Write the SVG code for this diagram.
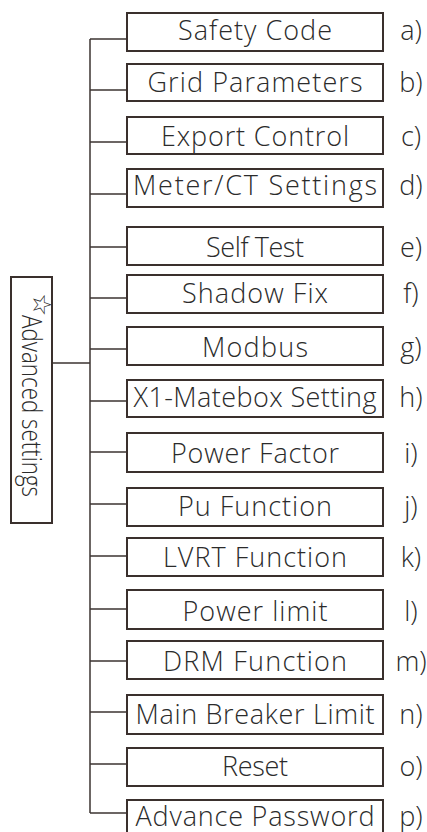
<svg xmlns="http://www.w3.org/2000/svg" width="427" height="832" viewBox="0 0 427 832">
<style>
  .box { fill: #ffffff; stroke: #3a302d; stroke-width: 2; }
  .lbl { font-family: "Open Sans", "Noto Sans", "Liberation Sans", sans-serif; font-weight: 300; font-size: 27px; fill: #2b2b2b; text-anchor: middle; }
  .idx { font-family: "Open Sans", "Noto Sans", "Liberation Sans", sans-serif; font-weight: 300; font-size: 27px; fill: #2b2b2b; text-anchor: middle; }
  .conn { fill: none; stroke: #3d3532; stroke-width: 1.5; }
</style>
<rect x="0" y="0" width="427" height="832" fill="#ffffff"/>
<g id="connectors">
  <path class="conn" d="M90 39V813 M53 363H90 M90 39H127 M90 90H127 M90 142H127 M90 194H127 M90 247H127 M90 298H127 M90 349H127 M90 401H127 M90 452H127 M90 504H127 M90 556H127 M90 609H127 M90 661H127 M90 712H127 M90 764H127 M90 813H127"/>
</g>
<g id="advanced">
  <rect class="box" x="11" y="277" width="41" height="246"/>
  <text font-family="DejaVu Sans, sans-serif" font-size="26" fill="#2f2f2f" transform="translate(33,293) rotate(90)">☆</text>
  <text class="lbl" style="text-anchor:start" font-size="23" textLength="182" lengthAdjust="spacingAndGlyphs" transform="translate(22,315) rotate(90)">Advanced settings</text>
</g>
<g id="n1"><rect class="box" x="127" y="13" width="256" height="38"/><text class="lbl" x="255" y="40" textLength="154">Safety Code</text><text class="idx" x="411" y="40">a)</text></g>
<g id="n2"><rect class="box" x="127" y="64" width="256" height="37"/><text class="lbl" x="255" y="92" textLength="215">Grid Parameters</text><text class="idx" x="411" y="92">b)</text></g>
<g id="n3"><rect class="box" x="127" y="117" width="256" height="37"/><text class="lbl" x="255" y="146" textLength="188">Export Control</text><text class="idx" x="411" y="146">c)</text></g>
<g id="n4"><rect class="box" x="127" y="169" width="256" height="38"/><text class="lbl" x="255" y="195" textLength="244">Meter/CT Settings</text><text class="idx" x="411" y="195">d)</text></g>
<g id="n5"><rect class="box" x="127" y="227" width="256" height="38"/><text class="lbl" x="255" y="257" textLength="98">Self Test</text><text class="idx" x="411" y="257">e)</text></g>
<g id="n6"><rect class="box" x="127" y="275" width="256" height="38"/><text class="lbl" x="255" y="303" textLength="146">Shadow Fix</text><text class="idx" x="411" y="303">f)</text></g>
<g id="n7"><rect class="box" x="127" y="327" width="256" height="38"/><text class="lbl" x="255" y="357" textLength="106">Modbus</text><text class="idx" x="411" y="357">g)</text></g>
<g id="n8"><rect class="box" x="127" y="380" width="256" height="37"/><text class="lbl" x="255" y="407" textLength="243">X1-Matebox Setting</text><text class="idx" x="411" y="407">h)</text></g>
<g id="n9"><rect class="box" x="127" y="433" width="256" height="39"/><text class="lbl" x="255" y="463" textLength="168">Power Factor</text><text class="idx" x="411" y="463">i)</text></g>
<g id="n10"><rect class="box" x="127" y="488" width="256" height="38"/><text class="lbl" x="255" y="516" textLength="154">Pu Function</text><text class="idx" x="411" y="516">j)</text></g>
<g id="n11"><rect class="box" x="127" y="538" width="256" height="38"/><text class="lbl" x="255" y="567" textLength="184">LVRT Function</text><text class="idx" x="411" y="567">k)</text></g>
<g id="n12"><rect class="box" x="127" y="590" width="256" height="39"/><text class="lbl" x="255" y="621" textLength="145">Power limit</text><text class="idx" x="411" y="621">l)</text></g>
<g id="n13"><rect class="box" x="127" y="641" width="256" height="38"/><text class="lbl" x="255" y="671" textLength="184">DRM Function</text><text class="idx" x="411" y="671">m)</text></g>
<g id="n14"><rect class="box" x="127" y="695" width="256" height="39"/><text class="lbl" x="255" y="724" textLength="239">Main Breaker Limit</text><text class="idx" x="411" y="724">n)</text></g>
<g id="n15"><rect class="box" x="127" y="748" width="256" height="38"/><text class="lbl" x="255" y="776" textLength="66">Reset</text><text class="idx" x="411" y="776">o)</text></g>
<g id="n16"><rect class="box" x="127" y="800" width="256" height="40"/><text class="lbl" x="255" y="826" textLength="239">Advance Password</text><text class="idx" x="411" y="826">p)</text></g>
</svg>
